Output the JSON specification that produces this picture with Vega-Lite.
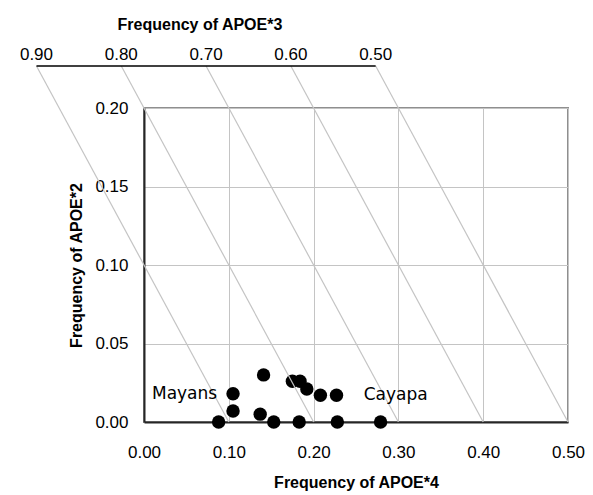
{
  "$schema": "https://vega.github.io/schema/vega-lite/v6.json",
  "width": 424,
  "height": 314,
  "autosize": {"type": "none"},
  "padding": {"left": 144, "top": 108, "right": 25, "bottom": 73},
  "background": "white",
  "config": {
    "view": {"stroke": "#8f8f8f", "strokeWidth": 2},
    "font": "Liberation Sans",
    "axis": {
      "labelFont": "Liberation Sans",
      "labelFontSize": 17,
      "labelColor": "#000000",
      "labelFlush": false,
      "titleFont": "Liberation Sans",
      "titleFontSize": 16,
      "titleFontWeight": "bold",
      "titleColor": "#000000",
      "ticks": false,
      "domainColor": "#262626",
      "domainWidth": 2,
      "gridColor": "#c4c4c4",
      "gridWidth": 1
    }
  },
  "datasets": {
    "points": [
      {"apoe4": 0.088, "apoe2": 0.0},
      {"apoe4": 0.105, "apoe2": 0.018},
      {"apoe4": 0.105, "apoe2": 0.007},
      {"apoe4": 0.141, "apoe2": 0.030},
      {"apoe4": 0.137, "apoe2": 0.005},
      {"apoe4": 0.153, "apoe2": 0.0},
      {"apoe4": 0.175, "apoe2": 0.026},
      {"apoe4": 0.184, "apoe2": 0.026},
      {"apoe4": 0.192, "apoe2": 0.021},
      {"apoe4": 0.183, "apoe2": 0.0},
      {"apoe4": 0.208, "apoe2": 0.017},
      {"apoe4": 0.227, "apoe2": 0.017},
      {"apoe4": 0.228, "apoe2": 0.0},
      {"apoe4": 0.279, "apoe2": 0.0}
    ],
    "diag": [
      {"e3": 0.9, "xTop": -0.1268, "xBottom": 0.1, "yTop": 0.2268, "yBottom": 0},
      {"e3": 0.8, "xTop": -0.0268, "xBottom": 0.2, "yTop": 0.2268, "yBottom": 0},
      {"e3": 0.7, "xTop": 0.0732, "xBottom": 0.3, "yTop": 0.2268, "yBottom": 0},
      {"e3": 0.6, "xTop": 0.1732, "xBottom": 0.4, "yTop": 0.2268, "yBottom": 0},
      {"e3": 0.5, "xTop": 0.2732, "xBottom": 0.5, "yTop": 0.2268, "yBottom": 0}
    ],
    "topaxis": [
      {"xStart": -0.1268, "xEnd": 0.2732, "y": 0.2268, "titleX": 0.066, "title": "Frequency of APOE*3"}
    ],
    "groups": [
      {"name": "Mayans", "apoe4": 0.0094, "apoe2": 0.0178},
      {"name": "Cayapa", "apoe4": 0.259, "apoe2": 0.0172}
    ]
  },
  "layer": [
    {
      "data": {"name": "points"},
      "mark": {"type": "circle", "size": 180, "color": "#000000", "opacity": 1},
      "encoding": {
        "x": {
          "field": "apoe4", "type": "quantitative",
          "scale": {"domain": [0, 0.5], "nice": false, "zero": false},
          "axis": {"title": "Frequency of APOE*4", "values": [0, 0.1, 0.2, 0.3, 0.4, 0.5], "format": ".2f", "labelPadding": 22, "titlePadding": 14, "grid": true}
        },
        "y": {
          "field": "apoe2", "type": "quantitative",
          "scale": {"domain": [0, 0.2], "nice": false, "zero": false},
          "axis": {"title": "Frequency of APOE*2", "values": [0, 0.05, 0.1, 0.15, 0.2], "format": ".2f", "labelPadding": 16, "titlePadding": 10, "grid": true}
        }
      }
    },
    {
      "data": {"name": "diag"},
      "mark": {"type": "rule", "color": "#c4c4c4", "strokeWidth": 1.2},
      "encoding": {
        "x": {"field": "xTop", "type": "quantitative"},
        "x2": {"field": "xBottom"},
        "y": {"field": "yTop", "type": "quantitative"},
        "y2": {"field": "yBottom"}
      }
    },
    {
      "data": {"name": "topaxis"},
      "mark": {"type": "rule", "color": "#000000", "strokeWidth": 1.5},
      "encoding": {
        "x": {"field": "xStart", "type": "quantitative"},
        "x2": {"field": "xEnd"},
        "y": {"field": "y", "type": "quantitative"}
      }
    },
    {
      "data": {"name": "diag"},
      "mark": {"type": "text", "font": "Liberation Sans", "fontSize": 17, "color": "#000000", "baseline": "alphabetic", "align": "center", "dy": -6},
      "encoding": {
        "x": {"field": "xTop", "type": "quantitative"},
        "y": {"field": "yTop", "type": "quantitative"},
        "text": {"field": "e3", "type": "quantitative", "format": ".2f"}
      }
    },
    {
      "data": {"name": "topaxis"},
      "mark": {"type": "text", "font": "Liberation Sans", "fontSize": 16, "fontWeight": "bold", "color": "#000000", "baseline": "alphabetic", "align": "center", "dy": -36},
      "encoding": {
        "x": {"field": "titleX", "type": "quantitative"},
        "y": {"field": "y", "type": "quantitative"},
        "text": {"field": "title", "type": "nominal"}
      }
    },
    {
      "data": {"name": "groups"},
      "mark": {"type": "text", "font": "DejaVu Sans", "fontSize": 17, "color": "#000000", "baseline": "middle", "align": "left"},
      "encoding": {
        "x": {"field": "apoe4", "type": "quantitative"},
        "y": {"field": "apoe2", "type": "quantitative"},
        "text": {"field": "name", "type": "nominal"}
      }
    }
  ]
}
